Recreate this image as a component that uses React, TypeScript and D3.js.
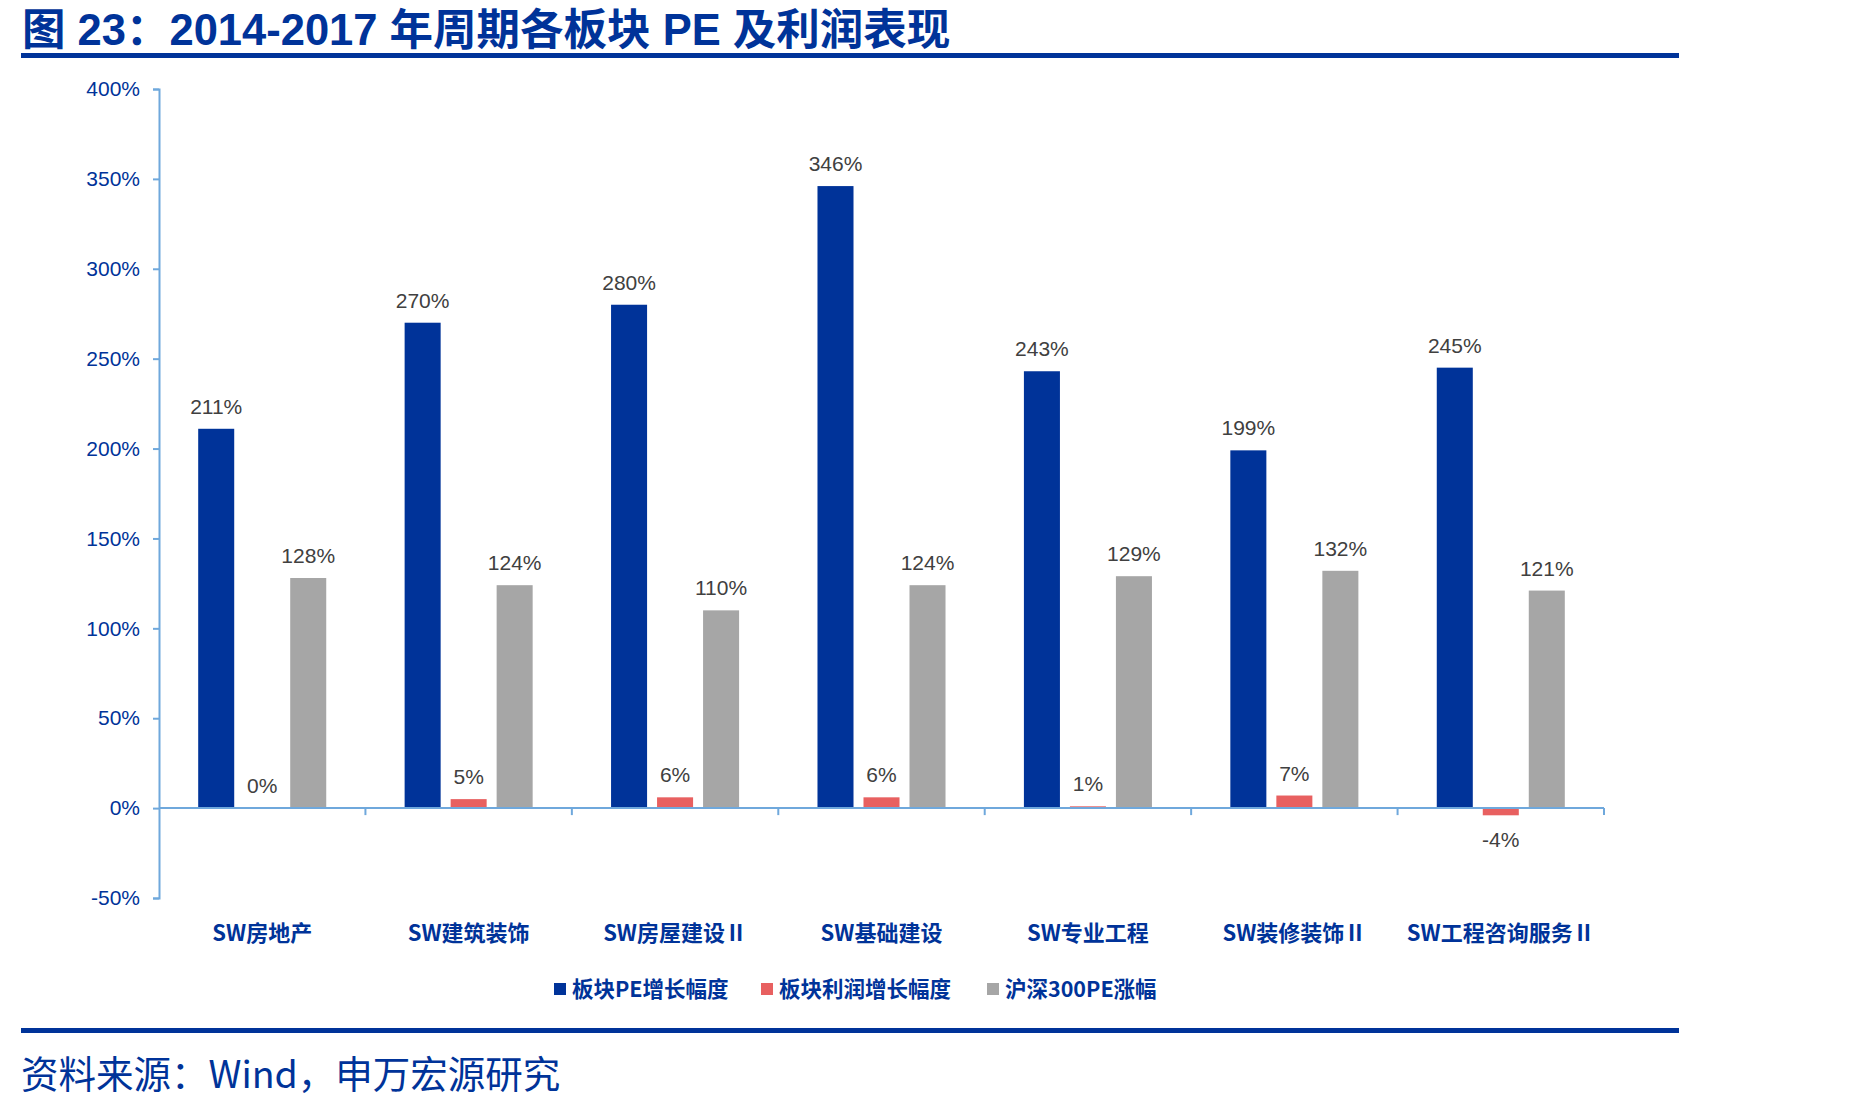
import React, { useRef, useEffect } from "react"
import * as d3 from "d3"

const categories = ["SW房地产", "SW建筑装饰", "SW房屋建设Ⅱ", "SW基础建设", "SW专业工程", "SW装修装饰Ⅱ", "SW工程咨询服务Ⅱ"]
const peGrowth = [211, 270, 280, 346, 243, 199, 245]
const profitGrowth = [0, 5, 6, 6, 1, 7, -4]
const hs300Pe = [128, 124, 110, 124, 129, 132, 121]
const seriesNames = ["板块PE增长幅度", "板块利润增长幅度", "沪深300PE涨幅"]
const yTicks = [-50, 0, 50, 100, 150, 200, 250, 300, 350, 400]

const BLUE = "#003399"
const RED = "#E86060"
const GRAY = "#A6A6A6"
const AXIS = "#6FA8DC"
const CJK = "'Noto Sans CJK SC', sans-serif"
const LATIN = "'Liberation Sans', Arial, 'Noto Sans CJK SC', sans-serif"

const App = () => {
    const element = useRef<SVGSVGElement | null>(null)

    useEffect(() => {
        const W = 1849, H = 1107
        const svg = d3.select(element.current)
        svg.selectAll("*").remove()

        const x0 = d3.scaleBand<string>()
            .domain(categories)
            .range([159, 1604])

        const x1 = d3.scaleBand<string>()
            .domain(seriesNames)
            .range([0, x0.bandwidth()])
            .paddingInner(0.217)
            .paddingOuter(0.852)

        const y = d3.scaleLinear()
            .domain([-50, 400])
            .range([898, 89])

        const colors = [BLUE, RED, GRAY]
        const series = [peGrowth, profitGrowth, hs300Pe]

        // title
        svg.append("text")
            .attr("x", 22)
            .attr("y", 45)
            .attr("font-family", LATIN)
            .attr("font-weight", "bold")
            .attr("font-size", 43.5)
            .attr("fill", BLUE)
            .text("图 23：2014-2017 年周期各板块 PE 及利润表现")

        svg.append("rect")
            .attr("x", 21).attr("y", 53)
            .attr("width", 1658).attr("height", 5)
            .attr("fill", BLUE)

        // y axis
        const yAxis = svg.append("g")
            .attr("transform", "translate(159,0)")
            .call(
                d3.axisLeft(y)
                    .tickValues(yTicks)
                    .tickSize(6)
                    .tickSizeOuter(6)
                    .tickPadding(13)
                    .tickFormat(d => d + "%")
            )
        yAxis.selectAll("path, line")
            .attr("stroke", AXIS)
            .attr("stroke-width", 2)
        yAxis.selectAll("text")
            .attr("font-family", LATIN)
            .attr("font-size", 21)
            .attr("fill", BLUE)

        // bars
        series.forEach((vals, si) => {
            svg.append("g")
                .selectAll("rect")
                .data(vals)
                .enter()
                    .append("rect")
                    .attr("x", (d, i) => (x0(categories[i]) as number) + (x1(seriesNames[si]) as number))
                    .attr("y", d => y(Math.max(d, 0)))
                    .attr("width", x1.bandwidth())
                    .attr("height", d => Math.abs(y(d) - y(0)))
                    .attr("fill", colors[si])

            svg.append("g")
                .selectAll("text")
                .data(vals)
                .enter()
                    .append("text")
                    .attr("x", (d, i) => (x0(categories[i]) as number) + (x1(seriesNames[si]) as number) + x1.bandwidth() / 2)
                    .attr("y", d => d >= 0 ? y(d) - 15 : y(d) + 32)
                    .attr("text-anchor", "middle")
                    .attr("font-family", LATIN)
                    .attr("font-size", 21)
                    .attr("fill", "#404040")
                    .text(d => d + "%")
        })

        // x axis at zero
        const y0 = y(0)
        svg.append("line")
            .attr("x1", 159).attr("x2", x0.range()[1])
            .attr("y1", y0).attr("y2", y0)
            .attr("stroke", AXIS)
            .attr("stroke-width", 2)

        const bounds = categories.map(c => x0(c) as number).slice(1).concat([x0.range()[1]])
        svg.append("g")
            .selectAll("line")
            .data(bounds)
            .enter()
                .append("line")
                .attr("x1", d => d).attr("x2", d => d)
                .attr("y1", y0).attr("y2", y0 + 7)
                .attr("stroke", AXIS)
                .attr("stroke-width", 2)

        // category labels
        svg.append("g")
            .selectAll("text")
            .data(categories)
            .enter()
                .append("text")
                .attr("x", d => (x0(d) as number) + x0.bandwidth() / 2)
                .attr("y", 941)
                .attr("text-anchor", "middle")
                .attr("font-family", CJK)
                .attr("font-weight", "bold")
                .attr("font-size", 22)
                .attr("fill", BLUE)
                .text(d => d)

        // legend
        const legendX = [554, 761, 987]
        const lg = svg.append("g")
        seriesNames.forEach((name, i) => {
            lg.append("rect")
                .attr("x", legendX[i]).attr("y", 983)
                .attr("width", 12).attr("height", 12)
                .attr("fill", colors[i])
            lg.append("text")
                .attr("x", legendX[i] + 18)
                .attr("y", 997)
                .attr("font-family", CJK)
                .attr("font-weight", "bold")
                .attr("font-size", 21.5)
                .attr("fill", BLUE)
                .text(name)
        })

        // footer
        svg.append("rect")
            .attr("x", 21).attr("y", 1028)
            .attr("width", 1658).attr("height", 5)
            .attr("fill", BLUE)

        svg.append("text")
            .attr("x", 21)
            .attr("y", 1088)
            .attr("font-family", CJK)
            .attr("font-size", 37.5)
            .attr("fill", BLUE)
            .text("资料来源：Wind，申万宏源研究")

        svg.attr("width", W).attr("height", H)

        return () => {
            if (element.current) d3.select(element.current).selectAll("*").remove()
        }
    }, [])

    return (
        <svg ref={element} width={1849} height={1107}
            style={{ position: "absolute", left: 0, top: 0, background: "#fff" }} />
    )
}

export default App
